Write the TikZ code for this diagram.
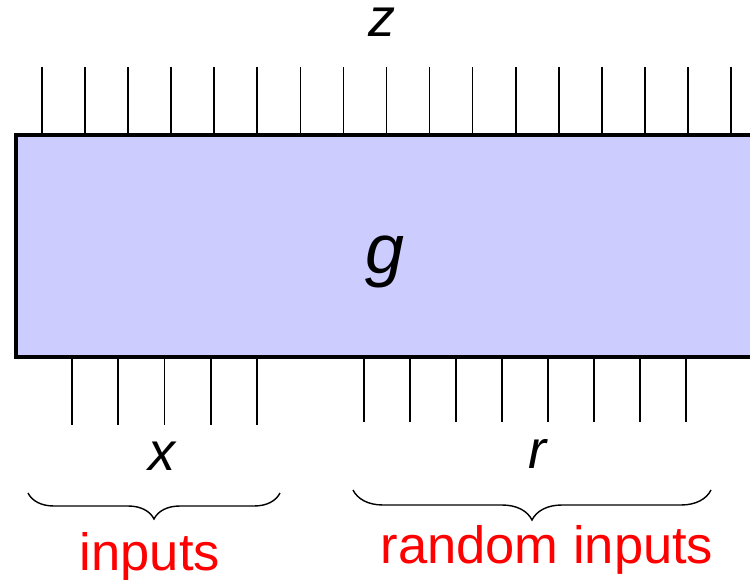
\documentclass[tikz,border=0pt]{standalone}
\usepackage{fontspec}
\setmainfont{Liberation Sans}
\usepackage{tikz}
\usetikzlibrary{decorations.pathreplacing}

\definecolor{boxblue}{RGB}{204,204,255}

\begin{document}
\begin{tikzpicture}[x=1pt, y=-1pt, wire/.style={line width=1.7pt},
    lbl/.style={anchor=base, inner sep=0pt, font=\fontsize{54}{60}\selectfont},
    redlbl/.style={anchor=base, inner sep=0pt, text=red, font=\fontsize{52.5}{60}\selectfont},
    brc/.style={decorate, line width=1.4pt, decoration={brace, mirror, amplitude=#1}}]
  \clip (0,0) rectangle (750,580);
  % Output wires
  \foreach \i in {0,...,16}
    \draw[wire] (42+43.06*\i,67) -- (42+43.06*\i,134);
  % Box g
  \draw[line width=4pt, fill=boxblue] (16,135) rectangle (790,357);
  \node[anchor=base, inner sep=0pt, font=\fontsize{70}{80}\selectfont]
    (g) at (385,274) {\textit{g}};
  % Input wires x
  \foreach \i in {0,...,4}
    \draw[wire] (72+46.25*\i,357) -- (72+46.25*\i,425);
  % Random wires r
  \foreach \i in {0,...,7}
    \draw[wire] (364+46*\i,357) -- (364+46*\i,422);
  % Labels
  \node[lbl] (z) at (382,37) {\textit{z}};
  \node[lbl] (x) at (163,470) {\textit{x}};
  \node[lbl] (r) at (538,468) {\textit{r}};
  % Braces
  \coordinate (xl) at (28,493);
  \coordinate (xr) at (280,493);
  \coordinate (rl) at (353,490);
  \coordinate (rr) at (711,490);
  \draw[brc=26] (xl) -- (xr);
  \draw[brc=30] (rl) -- (rr);
  \node[redlbl] (inp) at (150,570) {inputs};
  \node[redlbl] (rinp) at (547,563) {random inputs};
\end{tikzpicture}
\end{document}
